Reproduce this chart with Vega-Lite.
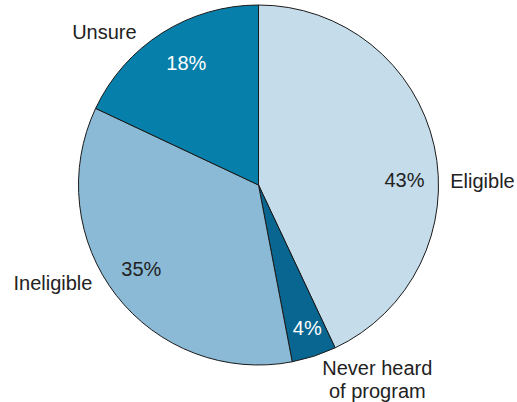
{
  "$schema": "https://vega.github.io/schema/vega-lite/v6.json",
  "width": 517,
  "height": 370,
  "autosize": {"type": "none"},
  "padding": {"left": 0, "right": 0, "top": 0, "bottom": 32},
  "background": "white",
  "config": {"view": {"stroke": null}, "font": "Liberation Sans"},
  "data": {
    "values": [
      {"cat": "Eligible", "share": 0.43, "rank": 1},
      {"cat": "Never heard\nof program", "share": 0.04, "rank": 2},
      {"cat": "Ineligible", "share": 0.35, "rank": 3},
      {"cat": "Unsure", "share": 0.18, "rank": 4}
    ]
  },
  "layer": [
    {
      "mark": {"type": "arc", "radius": 180, "stroke": "#1a1a1a", "strokeWidth": 1},
      "encoding": {
        "theta": {"field": "share", "type": "quantitative", "stack": true},
        "order": {"field": "rank", "type": "quantitative"},
        "color": {
          "field": "cat", "type": "nominal", "legend": null,
          "scale": {
            "domain": ["Eligible", "Never heard\nof program", "Ineligible", "Unsure"],
            "range": ["#c5dcea", "#086690", "#8abad5", "#0680aa"]
          }
        }
      }
    },
    {
      "mark": {
        "type": "text", "radius": 145, "fontSize": 20, "align": "center", "baseline": "middle",
        "dx": {"expr": "[4.5, 4, -2.6, 5.5][datum.rank - 1]"},
        "dy": {"expr": "[28, 6, -4, 1][datum.rank - 1]"},
        "fill": {"expr": "(datum.rank == 2 || datum.rank == 4) ? '#ffffff' : '#222222'"}
      },
      "encoding": {
        "theta": {"field": "share", "type": "quantitative", "stack": true},
        "order": {"field": "rank", "type": "quantitative"},
        "text": {"field": "share", "type": "quantitative", "format": ".0%"}
      }
    },
    {
      "mark": {
        "type": "text", "radius": 226, "fontSize": 20, "align": "center", "baseline": "middle",
        "lineBreak": "\n", "lineHeight": 23, "fill": "#222222",
        "dx": {"expr": "[3.4, 49, -27, -33][datum.rank - 1]"},
        "dy": {"expr": "[46, -31, -40, 38.5][datum.rank - 1]"}
      },
      "encoding": {
        "theta": {"field": "share", "type": "quantitative", "stack": true},
        "order": {"field": "rank", "type": "quantitative"},
        "text": {"field": "cat", "type": "nominal"}
      }
    }
  ]
}
